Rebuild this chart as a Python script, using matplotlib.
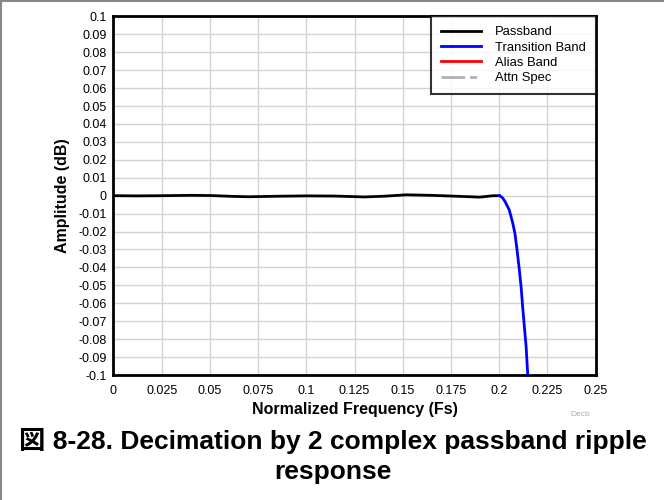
import matplotlib
matplotlib.use("Agg")
import matplotlib.pyplot as plt
from matplotlib.lines import Line2D

plt.rcParams['font.family'] = ['Liberation Sans', 'Noto Sans CJK JP', 'DejaVu Sans']

# Passband ripple (dB)
pass_f = [0.0, 0.0125, 0.025, 0.04, 0.05, 0.0625, 0.07, 0.085, 0.1, 0.115,
          0.13, 0.14, 0.152, 0.165, 0.178, 0.19, 0.197, 0.2]
pass_db = [0.0, -0.0001, 0.0, 0.0002, 0.0001, -0.0004, -0.0006, -0.0003, -0.0001, -0.0002,
           -0.0007, -0.0003, 0.0005, 0.0002, -0.0003, -0.0008, 0.0, 0.0]

# Transition band (dB)
trans_f = [0.2, 0.2005, 0.2018, 0.2031, 0.2053, 0.2071, 0.2082, 0.2091, 0.2103, 0.2114,
           0.2122, 0.2131, 0.2140, 0.2148, 0.2152]
trans_db = [0.0, -0.0001, -0.0012, -0.0033, -0.008, -0.0154, -0.021, -0.0284, -0.0395, -0.0506,
            -0.0618, -0.073, -0.084, -0.0989, -0.106]

# Series outside the visible window
alias_f = []
alias_db = []
attn_f = []
attn_db = []

xticks = [0, 0.025, 0.05, 0.075, 0.1, 0.125, 0.15, 0.175, 0.2, 0.225, 0.25]
xtick_labels = ['0', '0.025', '0.05', '0.075', '0.1', '0.125', '0.15', '0.175', '0.2', '0.225', '0.25']
yticks = [round(-0.1 + 0.01 * i, 2) for i in range(21)]
ytick_labels = ['-0.1', '-0.09', '-0.08', '-0.07', '-0.06', '-0.05', '-0.04', '-0.03', '-0.02', '-0.01',
                '0', '0.01', '0.02', '0.03', '0.04', '0.05', '0.06', '0.07', '0.08', '0.09', '0.1']

fig = plt.figure(figsize=(6.64, 5.0), dpi=100)
ax = fig.add_axes([113.5 / 664, 1 - 375 / 500, (595.5 - 113.5) / 664, (375 - 16.4) / 500])

ax.plot(pass_f, pass_db, color='black', lw=2, label='Passband', zorder=3)
ax.plot(trans_f, trans_db, color='#0000ff', lw=2, label='Transition Band', zorder=3)
ax.plot(alias_f, alias_db, color='#ff0000', lw=2, label='Alias Band')
ax.plot(attn_f, attn_db, color='#b0b0b0', lw=2, linestyle=(0, (8.5, 1.8, 2.5, 1.8)), label='Attn Spec')

ax.set_xlim(0, 0.25)
ax.set_ylim(-0.1, 0.1)
ax.set_xticks(xticks)
ax.set_xticklabels(xtick_labels, fontsize=9)
ax.set_yticks(yticks)
ax.set_yticklabels(ytick_labels, fontsize=9)
ax.tick_params(axis='x', length=0, pad=7)
ax.tick_params(axis='y', length=0, pad=5)
ax.grid(True, color='#d3d3d3', lw=1)
ax.set_axisbelow(True)
for s in ax.spines.values():
    s.set_linewidth(2)
    s.set_color('black')

ax.set_xlabel('Normalized Frequency (Fs)', fontsize=11.5, fontweight='bold', labelpad=4)
ax.set_ylabel('Amplitude (dB)', fontsize=11.5, fontweight='bold', labelpad=6)

leg = ax.legend(loc='upper right', fontsize=9.4, frameon=True, fancybox=False,
                borderaxespad=0, handlelength=3.1, handletextpad=1.05,
                labelspacing=0.24, borderpad=0.75)
leg.get_frame().set_edgecolor('black')
leg.get_frame().set_linewidth(1.5)

fig.text(580 / 664, 1 - 414 / 500, 'Decb', fontsize=6, color='#aaaaaa', ha='center', va='center')
fig.text(333 / 664, 1 - 441 / 500, '図 8-28. Decimation by 2 complex passband ripple',
         fontsize=19, fontweight='bold', ha='center', va='center')
fig.text(333 / 664, 1 - 472 / 500, 'response',
         fontsize=19, fontweight='bold', ha='center', va='center')

# figure frame on the left and top edges
fig.add_artist(Line2D([0.001, 0.001], [0, 1], transform=fig.transFigure, color='#888888', lw=1.5))
fig.add_artist(Line2D([0, 1], [0.999, 0.999], transform=fig.transFigure, color='#888888', lw=1.5))

fig.savefig('out.png', dpi=100)
